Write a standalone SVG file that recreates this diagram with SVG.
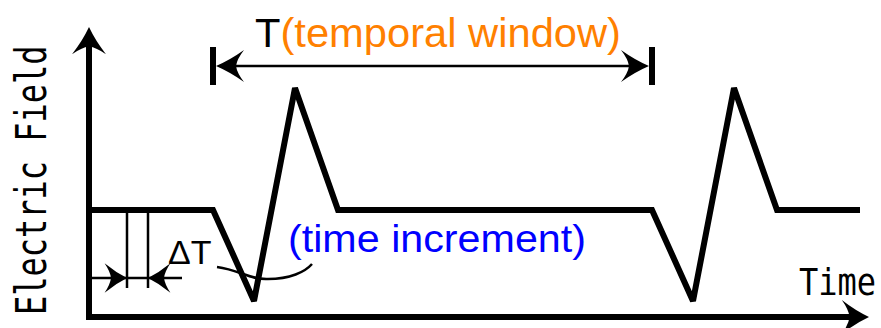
<svg xmlns="http://www.w3.org/2000/svg" xmlns:xlink="http://www.w3.org/1999/xlink" width="881" height="328" viewBox="0 0 881 328">
  <style>
    .thick { fill: none; stroke: #000; stroke-width: 6; }
    .thin { fill: none; stroke: #000; stroke-width: 2.5; }
    .head { fill: #000; stroke: none; }
    .sans { font-family: "Liberation Sans", Arial, sans-serif; }
    .mono { font-family: "DejaVu Sans Mono", "Liberation Mono", monospace; fill: #000; font-size: 32px; }
  </style>
  <defs>
    <path id="arrow" d="M0,0 Q-14,-6 -28,-16 Q-21,-7 -20,0 Q-21,7 -28,16 Q-14,6 0,0 Z"/>
  </defs>
  <rect width="881" height="328" fill="#fff"/>

  <g id="axes">
    <path class="thick" d="M89,45 V320"/>
    <path class="thick" d="M86,317 H852"/>
    <use xlink:href="#arrow" class="head" transform="translate(89,27) rotate(-90) scale(0.97,1.06)"/>
    <use xlink:href="#arrow" class="head" transform="translate(869,317) scale(0.97,1.06)"/>
  </g>

  <g id="signal">
    <path class="thick" stroke-linejoin="miter" stroke-miterlimit="2" d="M89,210 H213 L254,301 L295,88 L338,210 H652 L693,301 L734,88 L777,210 H860"/>
  </g>

  <g id="temporal-window">
    <path class="thick" d="M213,47 V85 M652,47 V85"/>
    <path class="thin" d="M230,66 H636"/>
    <use xlink:href="#arrow" class="head" transform="translate(216,66) rotate(180)"/>
    <use xlink:href="#arrow" class="head" transform="translate(649,66)"/>
    <text class="sans" x="255" y="47" font-size="40" textLength="366" lengthAdjust="spacingAndGlyphs"><tspan fill="#000">T</tspan><tspan fill="#FF8000">(temporal window)</tspan></text>
  </g>

  <g id="time-increment">
    <path class="thin" d="M127,212 V288 M148,212 V288"/>
    <path class="thin" d="M90,278 H182"/>
    <use xlink:href="#arrow" class="head" transform="translate(127,278) scale(0.8,0.92)"/>
    <use xlink:href="#arrow" class="head" transform="translate(148,278) rotate(180) scale(0.8,0.92)"/>
    <text class="sans" x="168" y="264" font-size="34" fill="#000">ΔT</text>
    <path class="thin" stroke-width="2" d="M217,267 C240,270 250,280 268,279 C290,279 305,272 312,264"/>
    <text class="sans" x="288" y="252" font-size="39" fill="#0000FF" textLength="298" lengthAdjust="spacingAndGlyphs">(time increment)</text>
  </g>

  <g id="labels">
    <text class="mono" x="0" y="0" transform="translate(46,315) rotate(-90) scale(1,1.35)">Electric Field</text>
    <text class="mono" x="0" y="0" transform="translate(799,295) scale(1,1.14)">Time</text>
  </g>
</svg>
